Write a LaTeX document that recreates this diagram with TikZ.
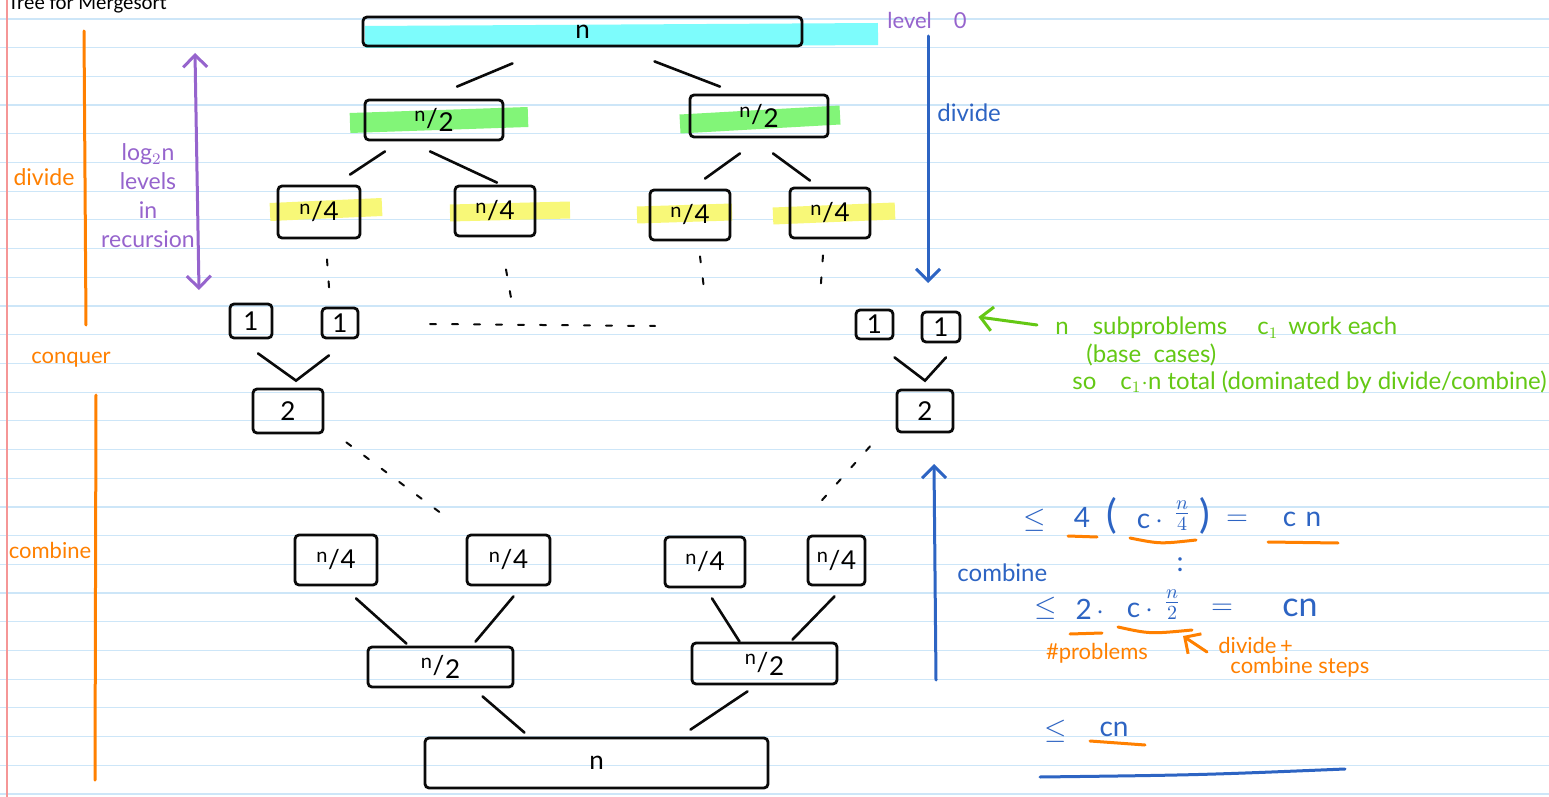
\documentclass[tikz,border=0pt]{standalone}
\usepackage{fontspec}
\setmainfont{Lato}
\newfontfamily\titlefont{Carlito}
\usetikzlibrary{calc,arrows.meta}
\definecolor{rulecol}{RGB}{205,230,248}
\definecolor{margcol}{RGB}{245,150,150}
\definecolor{hlcyan}{RGB}{125,252,252}
\definecolor{hlgreen}{RGB}{130,245,120}
\definecolor{hlyellow}{RGB}{248,248,120}
\definecolor{pen}{RGB}{10,10,10}
\definecolor{penpurple}{RGB}{150,100,205}
\definecolor{penorange}{RGB}{255,128,0}
\definecolor{penblue}{RGB}{45,100,195}
\definecolor{pengreen}{RGB}{100,200,20}
\newcommand\nfrac[1]{\raisebox{0.5ex}{\fontsize{10}{10}\selectfont n}\kern0.3pt/\kern0.3pt#1}
\begin{document}
\begin{tikzpicture}[x=0.5pt,y=-0.5pt,
  box/.style={draw=pen, line width=1.4pt, rounded corners=2pt, inner sep=0pt, font=\fontsize{13}{15}\selectfont},
  conn/.style={draw=pen, line width=1.3pt, line cap=round},
  dotline/.style={draw=pen, line width=1pt, line cap=round, dash pattern=on 3pt off 8pt},
  hl/.style={line width=#1, line cap=butt},
  lbl/.style={inner sep=0pt, font=\fontsize{11}{13}\selectfont},
  glbl/.style={inner sep=0pt, font=\fontsize{12}{14}\selectfont, text=pengreen, anchor=west},
  bigl/.style={inner sep=0pt, font=\fontsize{14}{16}\selectfont},
  pstroke/.style={line width=1.5pt, line cap=round},
  barb/.tip={Straight Barb[length=6pt,width=12pt,line width=1.5pt]}
]
\useasboundingbox (0,0) rectangle (1549,797);
\fill[white] (0,0) rectangle (1549,797);
\foreach \i in {0,...,27}{\draw[rulecol, line width=0.6pt] (0,{19+28.7*\i}) -- (1549,{19+28.7*\i});}
\draw[margcol, line width=0.7pt] (7,0) -- (7,797);
\node[anchor=base west, inner sep=0pt, font=\titlefont\fontsize{10.4}{12}\selectfont] (title) at (8,10) {Tree for Mergesort};

% highlights
\draw[hlcyan, hl=11pt] (365,37) -- (878,34);
\draw[hlgreen, hl=10pt] (350,123) -- (528,117);
\draw[hlgreen, hl=9.5pt] (680,124) -- (840,115);
\draw[hlyellow, hl=9pt] (270,212) -- (382,207);
\draw[hlyellow, hl=8.5pt] (450,213) -- (570,210);
\draw[hlyellow, hl=8.5pt] (637,215) -- (732,212);
\draw[hlyellow, hl=8.5pt] (773,216) -- (895,211);

% boxes
\node[box, minimum width=219.5pt, minimum height=14.5pt] (top) at (582.5,31.5) {n};
\node[box, minimum width=69pt, minimum height=20pt] (h1) at (434,120) {\nfrac{\raisebox{-0.3ex}{2}}};
\node[box, minimum width=69pt, minimum height=21pt] (h2) at (759,116) {\nfrac{\raisebox{-0.3ex}{2}}};
\node[box, minimum width=41pt, minimum height=26pt] (q1) at (319,212) {\nfrac{4}};
\node[box, minimum width=40pt, minimum height=25pt] (q2) at (495,211) {\nfrac{4}};
\node[box, minimum width=40pt, minimum height=25pt] (q3) at (690,215) {\nfrac{4}};
\node[box, minimum width=40pt, minimum height=25pt] (q4) at (830,213) {\nfrac{4}};
\node[box, minimum width=21pt, minimum height=17pt] (l1) at (251,321) {1};
\node[box, minimum width=18pt, minimum height=15pt] (l2) at (340,323) {1};
\node[box, minimum width=18.5pt, minimum height=14.5pt] (l3) at (874.5,324.5) {1};
\node[box, minimum width=19pt, minimum height=15pt] (l4) at (941,327) {1};
\node[box, minimum width=35pt, minimum height=22pt] (t1) at (288,411) {2};
\node[box, minimum width=28pt, minimum height=21pt] (t2) at (925,411) {2};
\node[box, minimum width=41pt, minimum height=25pt] (b1) at (336,560) {\nfrac{4}};
\node[box, minimum width=41.5pt, minimum height=25pt] (b2) at (508.5,560) {\nfrac{4}};
\node[box, minimum width=40pt, minimum height=25pt] (b3) at (705,562) {\nfrac{4}};
\node[box, minimum width=28.5pt, minimum height=24.5pt] (b4) at (836.5,560.5) {\nfrac{4}};
\node[box, minimum width=72.5pt, minimum height=20pt] (m1) at (440.5,667) {\nfrac{\raisebox{-0.3ex}{2}}};
\node[box, minimum width=72.5pt, minimum height=20.5pt] (m2) at (764.5,663.5) {\nfrac{\raisebox{-0.3ex}{2}}};
\node[box, minimum width=171.5pt, minimum height=25pt] (bot) at (596.5,763) {n};

% connectors (divide part)
\draw[conn] ($(top.south)+(-70,16)$) -- ($(h1.north)+(23,-12)$);
\draw[conn] ($(top.south)+(72,14)$) -- ($(h2.north)+(-39,-7)$);
\draw[conn] ($(h1.south)+(-49,10)$) -- ($(q1.north)+(31,-10)$);
\draw[conn] ($(h1.south)+(-4,10)$) -- ($(q2.north)+(2,-2)$);
\draw[conn] ($(h2.south)+(-19,15)$) -- ($(q3.north)+(15,-10)$);
\draw[conn] ($(h2.south)+(14,15)$) -- ($(q4.north)+(-20,-6)$);
% dotted continuation
\draw[dotline] ($(q1.south)+(8,20)$) -- ($(l2.north)+(-10,-6)$);
\draw[dotline] ($(q2.south)+(11,32)$) -- ($(q2.south)+(17,66)$);
\draw[dotline] ($(q3.south)+(10,15)$) -- ($(q3.south)+(15,55)$);
\draw[dotline] ($(q4.south)+(-7,16)$) -- ($(q4.south)+(-10,57)$);
\coordinate (hd1) at (430,324);
\coordinate (hd2) at (655,326);
\draw[dotline] (hd1) -- (hd2);
% leaves to 2
\draw[conn] ($(l1.south)+(7,14)$) -- ($(t1.north)+(8,-7)$) -- ($(l2.south)+(-11,16)$);
\draw[conn] ($(l3.south)+(20,17)$) -- ($(t2.north)+(0,-8)$) -- ($(l4.south)+(5,14)$);
% dotted to combine
\draw[dotline] ($(t1.south east)+(22,8)$) -- ($(b2.north)+(-63,-17)$);
\draw[dotline] ($(t2.south)+(-55,13)$) -- ($(t2.south)+(-113,78)$);
% combine connectors
\draw[conn] ($(b1.south)+(20,12)$) -- ($(m1.north)+(-34,-2)$);
\draw[conn] ($(b2.south)+(5,10)$) -- ($(m1.north)+(35,-4)$);
\draw[conn] ($(b3.south)+(7,10)$) -- ($(m2.north)+(-25,0)$);
\draw[conn] ($(b4.south)+(-2,10)$) -- ($(m2.north)+(28,-2)$);
\draw[conn] ($(m1.south)+(42,8)$) -- ($(bot.north)+(-72,-4)$);
\draw[conn] ($(m2.south)+(-17,6)$) -- ($(bot.north)+(94,-7)$);

% orange side brackets
\coordinate (ob1) at (84,31); \coordinate (ob2) at (86,325);
\coordinate (ob3) at (96,395); \coordinate (ob4) at (95,780);
\draw[penorange, pstroke] (ob1) -- (ob2);
\draw[penorange, pstroke] (ob3) -- (ob4);
\node[lbl, text=penorange, font=\fontsize{11.5}{13}\selectfont] (odiv) at (44,177) {divide};
\node[lbl, text=penorange] (ocon) at (71,360) {conquer};
\node[lbl, text=penorange] (ocom) at (50,550) {combine};

% purple
\coordinate (pa1) at (195,53); \coordinate (pa2) at (199,290);
\draw[penpurple, pstroke, barb-barb] (pa1) -- (pa2);
\node[lbl, text=penpurple, align=center, font=\fontsize{11.5}{14.5}\selectfont] (plog) at (148,196) {log$_2$n\\levels\\in\\recursion};
\node[lbl, text=penpurple] (plvl) at (927,20) {level\quad 0};

% blue arrows
\coordinate (bd1) at (928,36); \coordinate (bd2) at (928,283);
\draw[penblue, pstroke, -barb] (bd1) -- (bd2);
\node[lbl, text=penblue, anchor=west, font=\fontsize{12}{14}\selectfont] (bdiv) at (937,113) {divide};
\coordinate (bc1) at (936,680); \coordinate (bc2) at (934,464);
\draw[penblue, pstroke, -barb] (bc1) -- (bc2);
\node[lbl, text=penblue, anchor=west, font=\fontsize{12}{14}\selectfont] (bcom) at (957,573) {combine};

% green
\coordinate (ga) at (1037,325);
\draw[pengreen, pstroke, -barb] (ga) -- ($(l4.east)+(17,-10)$);
\node[glbl] (g1) at (1055,328) {n\quad subproblems\quad\ c$_1$\ \,work\ each};
\node[glbl] (g2) at (1086,355) {(base\ \ cases)};
\node[glbl] (g3) at (1072,382) {so\quad c$_1$$\cdot$n total (dominated by divide/combine)};

% equation 1
\node[bigl, text=penblue] (e1le) at (1035,520) {$\le$};
\node[bigl, text=penblue] (e1four) at (1082,517) {4};
\node[bigl, text=penblue, font=\fontsize{20}{22}\selectfont] (e1lp) at (1112,516) {(};
\node[bigl, text=penblue] (e1c) at (1150,521) {c\,$\cdot$};
\node[bigl, text=penblue] (e1fr) at (1182,516) {$\frac{n}{4}$};
\node[bigl, text=penblue, font=\fontsize{20}{22}\selectfont] (e1rp) at (1205,516) {)};
\node[bigl, text=penblue] (e1eq) at (1237,520) {$=$};
\node[bigl, text=penblue] (e1cn) at (1302,519) {c\,\,n};
\draw[penorange, pstroke] (1068,536) -- (1097,537);
\draw[penorange, pstroke] (1130,538) .. controls (1160,544) .. (1196,540);
\draw[penorange, pstroke] (1268,542) -- (1338,543);
\node[bigl, text=penblue] (vd) at (1180,565) {:};

% equation 2
\node[bigl, text=penblue] (e2le) at (1046,608) {$\le$};
\node[bigl, text=penblue] (e2two) at (1090,609) {2\,$\cdot$};
\node[bigl, text=penblue] (e2c) at (1140,610) {c\,$\cdot$};
\node[bigl, text=penblue] (e2fr) at (1172,605) {$\frac{n}{2}$};
\node[bigl, text=penblue] (e2eq) at (1222,609) {$=$};
\node[bigl, text=penblue, font=\fontsize{17}{19}\selectfont] (e2cn) at (1300,608) {cn};
\draw[penorange, pstroke] (1070,634) -- (1102,633);
\draw[penorange, pstroke] (1118,627) .. controls (1150,634) .. (1192,630);
\node[lbl, text=penorange] (oprob) at (1097,653) {\#problems};
\coordinate (oa) at (1207,652);
\draw[penorange, pstroke, -barb] (oa) -- (1183,636);
\node[lbl, text=penorange, anchor=west] (odc1) at (1218,645) {divide\,+};
\node[lbl, text=penorange, anchor=west] (odc2) at (1230,667) {combine steps};

% total
\node[bigl, text=penblue] (e3le) at (1056,731) {$\le$};
\node[bigl, text=penblue] (e3cn) at (1114,729) {cn};
\draw[penorange, pstroke] (1090,741) -- (1145,745);
\draw[penblue, pstroke] (1040,777) .. controls (1200,775) .. (1345,769);
\end{tikzpicture}
\end{document}
